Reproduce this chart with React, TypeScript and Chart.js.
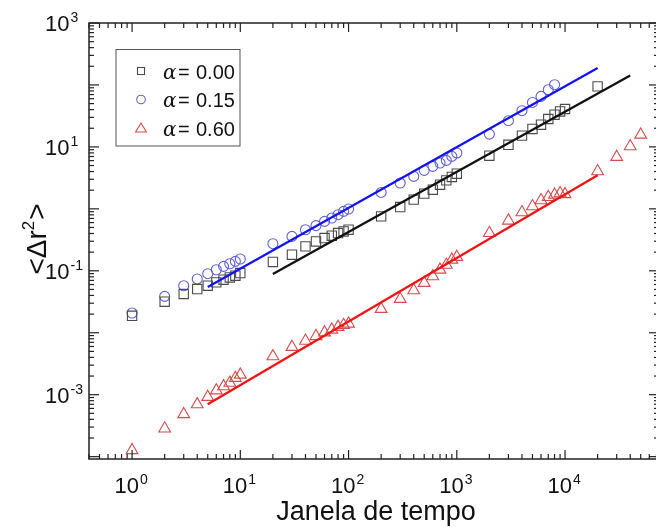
import React, { useEffect, useRef } from 'react';
import { Chart, registerables } from 'chart.js';

Chart.register(...registerables);

// ---- data (time window vs <Δr²>) ----
const tBlack = [1, 2, 3, 4, 5, 6, 7, 8, 9, 10, 20, 30, 40, 50, 60, 70, 80, 90, 100, 200, 300, 400, 500, 600, 700, 800, 900, 1000, 2000, 3000, 4000, 5000, 6000, 7000, 8000, 9000, 10000, 20000];
const msdBlack = [0.0188, 0.0317, 0.0422, 0.0508, 0.0574, 0.065, 0.0718, 0.0782, 0.0833, 0.092, 0.139, 0.182, 0.248, 0.298, 0.338, 0.368, 0.407, 0.432, 0.46, 0.755, 1.07, 1.41, 1.76, 2.04, 2.45, 2.88, 3.27, 3.69, 7.2, 10.8, 15.2, 19.5, 22.8, 28.2, 33.1, 37.4, 40.9, 94.8];

const tBlue = [1, 2, 3, 4, 5, 6, 7, 8, 9, 10, 20, 30, 40, 50, 60, 70, 80, 90, 100, 200, 300, 400, 500, 600, 700, 800, 900, 1000, 2000, 3000, 4000, 5000, 6000, 7000, 8000];
const msdBlue = [0.0208, 0.0387, 0.0574, 0.0738, 0.0898, 0.104, 0.118, 0.13, 0.142, 0.155, 0.274, 0.359, 0.46, 0.535, 0.627, 0.711, 0.805, 0.91, 0.995, 1.84, 2.61, 3.34, 4.18, 4.85, 5.5, 6.05, 7.03, 7.98, 16.1, 26.5, 38.4, 52.2, 65.3, 83.8, 101];

const tRed = [1, 2, 3, 4, 5, 6, 7, 8, 9, 10, 20, 30, 40, 50, 60, 70, 80, 90, 100, 200, 300, 400, 500, 600, 700, 800, 900, 1000, 2000, 3000, 4000, 5000, 6000, 7000, 8000, 9000, 10000, 20000, 30000, 40000, 50000];
const msdRed = [1.27e-4, 2.84e-4, 4.84e-4, 6.97e-4, 9.18e-4, 1.17e-3, 1.36e-3, 1.55e-3, 1.86e-3, 2.1e-3, 4.15e-3, 5.89e-3, 7.4e-3, 8.8e-3, 0.0101, 0.0112, 0.0124, 0.0133, 0.014, 0.0242, 0.0351, 0.0483, 0.0635, 0.0813, 0.104, 0.125, 0.151, 0.167, 0.407, 0.644, 0.877, 1.1, 1.37, 1.55, 1.69, 1.78, 1.72, 4.03, 6.87, 10.2, 15.7];

// fitted power-law lines (end points)
const fitBlackT = [20, 40000];
const fitBlackY = [0.0891, 141.6];
const fitBlueT = [5, 20000];
const fitBlueY = [0.0547, 188];
const fitRedT = [5, 20000];
const fitRedY = [7.0e-4, 3.48];

const legendLabels = ['0.00', '0.15', '0.60'];
const xLabelExps = [0, 1, 2, 3, 4];
const yLabelExps = [3, 1, -1, -3];
const xTitle = 'Janela de tempo';

const X_MIN = 0.4;
const X_MAX = 73800;
const Y_MIN = 9.16e-5;
const Y_MAX = 1000;

const SANS = '"Liberation Sans", Arial, sans-serif';
const COL_SQ = '#4a4a4a';
const COL_CI = '#6262d4';
const COL_TR = '#d44c4c';

const pts = (t: number[], v: number[]) => t.map((x, i) => ({ x, y: v[i] }));

const framePlugin = {
  id: 'framePlugin',
  afterDraw(chart: any) {
    const { ctx, chartArea: a, scales } = chart;
    const xs = scales.x;
    const ys = scales.y;
    ctx.save();
    ctx.strokeStyle = '#222';
    ctx.lineWidth = 1.5;
    ctx.strokeRect(a.left, a.top, a.right - a.left, a.bottom - a.top);
    ctx.lineWidth = 1.2;
    const seg = (x1: number, y1: number, x2: number, y2: number) => {
      ctx.beginPath();
      ctx.moveTo(x1, y1);
      ctx.lineTo(x2, y2);
      ctx.stroke();
    };
    for (let e = -2; e <= 5; e++) {
      for (let m = 1; m <= 9; m++) {
        const v = m * Math.pow(10, e);
        if (v >= X_MIN && v <= X_MAX) {
          const px = xs.getPixelForValue(v);
          const len = m === 1 ? 9 : 5;
          seg(px, a.bottom, px, a.bottom - len);
          seg(px, a.top, px, a.top + len);
        }
      }
    }
    for (let e = -5; e <= 3; e++) {
      for (let m = 1; m <= 9; m++) {
        const v = m * Math.pow(10, e);
        if (v >= Y_MIN && v <= Y_MAX) {
          const py = ys.getPixelForValue(v);
          const len = m === 1 ? 10 : 5;
          seg(a.left, py, a.left + len, py);
          seg(a.right, py, a.right - len, py);
        }
      }
    }
    // tick labels
    ctx.fillStyle = '#111';
    ctx.textBaseline = 'alphabetic';
    ctx.textAlign = 'left';
    const big = `22px ${SANS}`;
    const small = `14px ${SANS}`;
    xLabelExps.forEach((e) => {
      const px = xs.getPixelForValue(Math.pow(10, e));
      ctx.font = big;
      const w1 = ctx.measureText('10').width;
      ctx.font = small;
      const sup = String(e);
      const w2 = ctx.measureText(sup).width;
      const start = px - (w1 + 1 + w2) / 2 - 1;
      ctx.font = big;
      ctx.fillText('10', start, 493);
      ctx.font = small;
      ctx.fillText(sup, start + w1 + 1, 484);
    });
    yLabelExps.forEach((e) => {
      const py = ys.getPixelForValue(Math.pow(10, e));
      ctx.font = big;
      const w1 = ctx.measureText('10').width;
      ctx.fillText('10', 45, py + 8);
      ctx.font = small;
      ctx.fillText(e < 0 ? '-' + Math.abs(e) : String(e), 45 + w1 + 1, py - 1);
    });
    // x title
    ctx.font = `27px ${SANS}`;
    ctx.textAlign = 'center';
    ctx.fillText(xTitle, 376, 520);
    // y title rotated: <Δr²>
    ctx.save();
    ctx.translate(46, 239);
    ctx.rotate(-Math.PI / 2);
    ctx.textAlign = 'left';
    const tf = `28px ${SANS}`;
    const sf = `17px ${SANS}`;
    ctx.font = tf;
    const p1 = '<Δr';
    const w1 = ctx.measureText(p1).width;
    const w3 = ctx.measureText('>').width;
    ctx.font = sf;
    const w2 = ctx.measureText('2').width;
    const total = w1 + w2 + w3 + 1;
    let cx = -total / 2;
    ctx.font = tf;
    ctx.fillText(p1, cx, 0);
    cx += w1;
    ctx.font = sf;
    ctx.fillText('2', cx, -12);
    cx += w2 + 1;
    ctx.font = tf;
    ctx.fillText('>', cx, 0);
    ctx.restore();
    // legend
    ctx.strokeStyle = '#555';
    ctx.lineWidth = 1;
    ctx.strokeRect(116, 49.5, 124, 96.5);
    const baselines = [78.5, 107, 135.5];
    const cols = [COL_SQ, COL_CI, COL_TR];
    baselines.forEach((b, i) => {
      const my = b - 7.5;
      const mx = 141;
      ctx.strokeStyle = cols[i];
      ctx.lineWidth = 1.1;
      ctx.beginPath();
      if (i === 0) {
        ctx.rect(mx - 3.5, my - 3.5, 7, 7);
      } else if (i === 1) {
        ctx.arc(mx, my, 4.3, 0, Math.PI * 2);
      } else {
        ctx.moveTo(mx, my - 5);
        ctx.lineTo(mx + 5.4, my + 4);
        ctx.lineTo(mx - 5.4, my + 4);
        ctx.closePath();
      }
      ctx.stroke();
      ctx.fillStyle = '#111';
      ctx.textAlign = 'left';
      ctx.font = `italic 20px "DejaVu Serif", serif`;
      ctx.fillText('α', 163, b);
      ctx.font = `20px ${SANS}`;
      ctx.fillText('=', 178, b);
      ctx.fillText(legendLabels[i], 196, b);
    });
    ctx.restore();
  },
};

export default function App() {
  const ref = useRef<HTMLCanvasElement>(null);
  useEffect(() => {
    document.body.style.margin = '0';
    document.body.style.background = '#fff';
    const canvas = ref.current!;
    const scat = (t: number[], v: number[], style: string, r: number, col: string) => ({
      data: pts(t, v),
      pointStyle: style,
      pointRadius: r,
      pointHoverRadius: r,
      pointBorderColor: col,
      pointBackgroundColor: 'rgba(0,0,0,0)',
      pointBorderWidth: 1.1,
      showLine: false,
    });
    const fit = (t: number[], v: number[], col: string) => ({
      data: pts(t, v),
      borderColor: col,
      borderWidth: 2.3,
      pointRadius: 0,
      showLine: true,
      fill: false,
    });
    const chart = new Chart(canvas, {
      type: 'scatter',
      data: {
        datasets: [
          fit(fitBlueT, fitBlueY, '#1414ee'),
          fit(fitBlackT, fitBlackY, '#111111'),
          fit(fitRedT, fitRedY, '#ee1515'),
          scat(tBlack, msdBlack, 'rect', 6.6, COL_SQ),
          scat(tBlue, msdBlue, 'circle', 5, COL_CI),
          scat(tRed, msdRed, 'triangle', 6.8, COL_TR),
        ] as any,
      },
      options: {
        responsive: false,
        animation: false,
        devicePixelRatio: 1,
        layout: { padding: { left: 89, top: 23, right: 21, bottom: 68 } },
        plugins: { legend: { display: false }, tooltip: { enabled: false } },
        scales: {
          x: { type: 'logarithmic', min: X_MIN, max: X_MAX, display: false },
          y: { type: 'logarithmic', min: Y_MIN, max: Y_MAX, display: false },
        },
      } as any,
      plugins: [framePlugin],
    });
    return () => chart.destroy();
  }, []);
  return (
    <div style={{ position: 'fixed', left: 0, top: 0, width: 656, height: 527, overflow: 'hidden', background: '#fff' }}>
      <canvas ref={ref} width={680} height={527} style={{ width: 680, height: 527, display: 'block' }} />
    </div>
  );
}
